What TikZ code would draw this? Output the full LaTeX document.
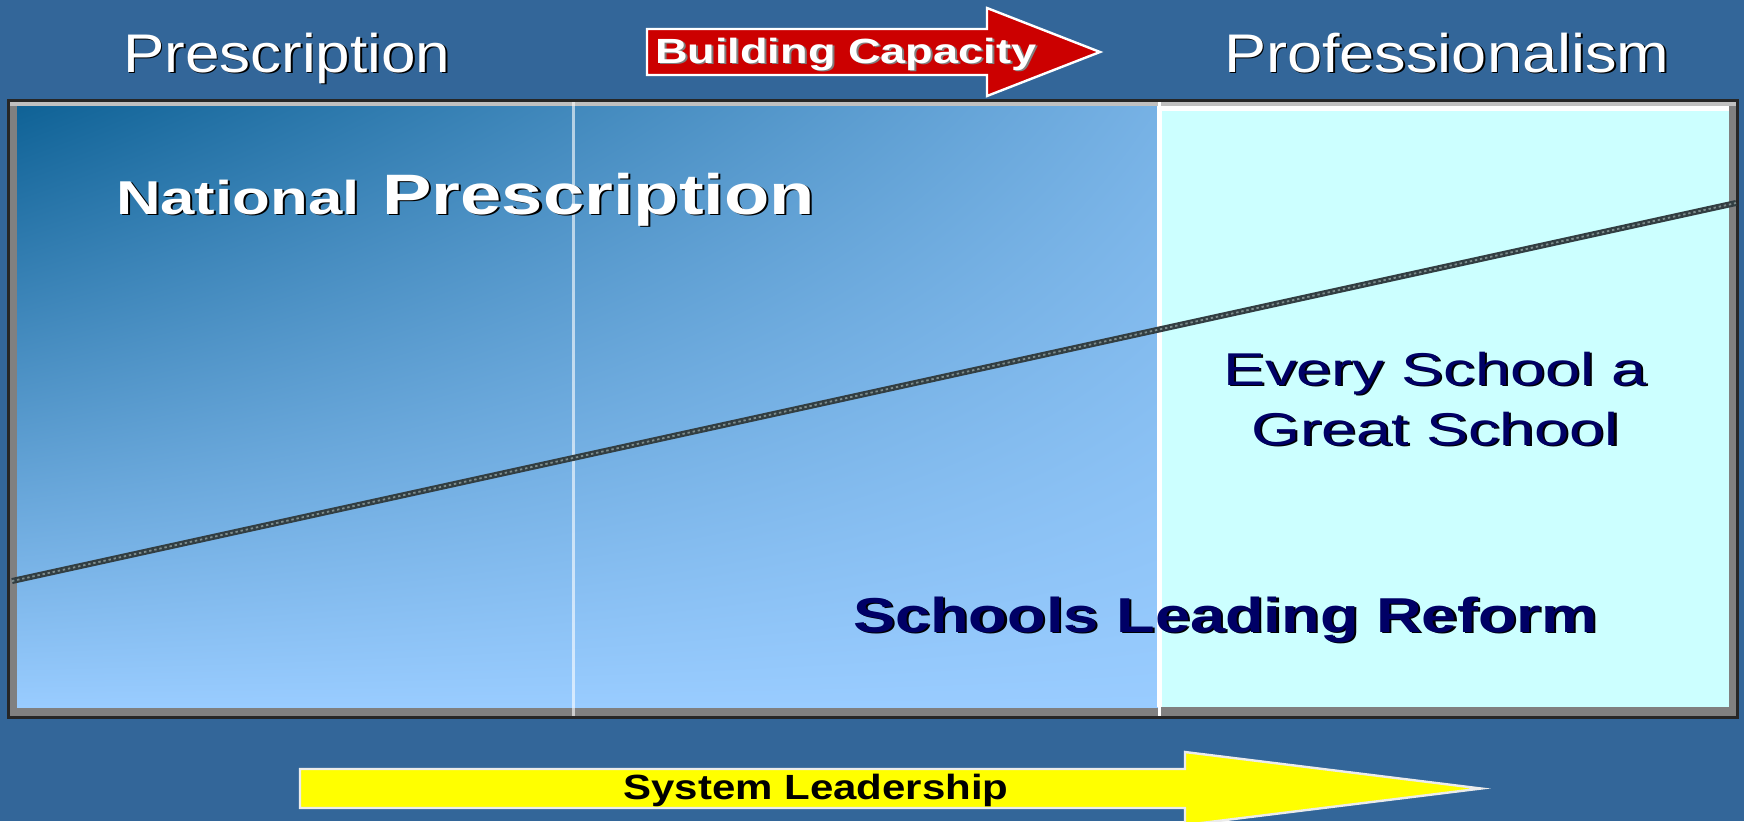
\documentclass[tikz,border=0pt]{standalone}
\usepackage{fontspec}
\setmainfont{Liberation Sans}
\usepackage{graphicx}
\definecolor{bgblue}{RGB}{51,102,153}
\definecolor{redc}{RGB}{204,0,0}
\definecolor{cyanp}{RGB}{204,255,255}
\definecolor{navy}{RGB}{0,0,102}
\definecolor{yel}{RGB}{255,255,0}
\definecolor{lineg}{RGB}{50,62,66}
\definecolor{lineh}{RGB}{125,140,140}
\definecolor{framegray}{RGB}{128,128,128}
\definecolor{framelight}{RGB}{192,192,192}
\newcommand\shtext[3]{\makebox[0pt][l]{\kern0.8pt\raisebox{-0.8pt}{\color{#1}#3}}{\color{#2}#3}}
\pgfdeclarefunctionalshading{panelgrad}{\pgfpoint{-50bp}{-50bp}}{\pgfpoint{50bp}{50bp}}{}{
  25 exch sub 50 div
  exch 25 add 50 div 0.75 mul
  1 index 1 exch sub mul
  add
  dup 1 gt {pop 1} if
  dup 0 lt {pop 0} if
  dup 138 mul 15 add 255 div exch
  dup 106 mul 98 add 255 div exch
  105 mul 150 add 255 div
}
\tikzset{
  txt/.style={inner sep=0pt, outer sep=0pt},
  hdr/.style={txt, anchor=base west, font=\fontsize{27.2}{30}\selectfont},
  arrowshape/.style={line width=1.2pt, line join=miter},
}
\begin{document}
\begin{tikzpicture}[x=0.5pt,y=-0.5pt]
\useasboundingbox (0,0) rectangle (1744,821);
\fill[bgblue] (0,0) rectangle (1744,821);
% frame
\fill[black!85] (7,99) rectangle (1739,719);
\fill[framegray] (10,102) rectangle (1736,716);
\fill[framelight] (10,102) rectangle (1736,106);
% gradient panel
\shade[shading=panelgrad] (17,106) rectangle (1158,707);
% cyan panel
\fill[white] (1157,106) rectangle (1729,707);
\fill[cyanp] (1162,111) rectangle (1729,707);
% dividers
\draw[white, opacity=0.6, line width=1.5pt] (573,102) -- (573,716);
\draw[white, line width=1.5pt] (1159,102) -- (1159,716);
% diagonal line
\draw[lineg, line width=3pt] (12,581) -- (1736,203);
\draw[lineh, line width=0.9pt, dash pattern=on 1.2pt off 1.4pt] (12,581) -- (1736,203);
% top arrow
\draw[arrowshape, draw=white, fill=redc] (647,29) -- (987,29) -- (987,8) -- (1100,52) -- (987,96) -- (987,75) -- (647,75) -- cycle;
% bottom arrow
\draw[arrowshape, draw=white!85!gray, fill=yel] (300,769) -- (1185,769) -- (1185,752) -- (1481,788.5) -- (1185,825) -- (1185,808) -- (300,808) -- cycle;
% texts
\node[hdr] (presc) at (123,72) {\scalebox{1.14}[1]{\shtext{black}{white}{Prescription}}};
\node[hdr] (prof) at (1224,72) {\scalebox{1.16}[1]{\shtext{black}{white}{Professionalism}}};
\node[txt, anchor=base west, font=\bfseries\fontsize{17.5}{20}\selectfont] (bc) at (655,63) {\scalebox{1.29}[1]{\shtext{gray}{white}{Building Capacity}}};
\node[txt, anchor=base west, font=\bfseries] (natp) at (116,214) {\scalebox{1.3}[1]{\shtext{black}{white}{\fontsize{23.75}{26}\selectfont National}\hspace{8.8pt}\shtext{black}{white}{\fontsize{28.5}{30}\selectfont Prescription}}};
\node[txt, anchor=base, font=\fontsize{23}{30}\selectfont] (every1) at (1435,385) {\scalebox{1.37}[1]{\shtext{black}{navy}{Every School a}}};
\node[txt, anchor=base, font=\fontsize{23}{30}\selectfont] (every2) at (1435,445) {\scalebox{1.37}[1]{\shtext{black}{navy}{Great School}}};
\node[txt, anchor=base west, font=\bfseries\fontsize{24.5}{28}\selectfont] (slr) at (853,632) {\scalebox{1.29}[1]{\shtext{black}{navy}{Schools Leading Reform}}};
\node[txt, anchor=base, font=\bfseries\fontsize{17.5}{20}\selectfont] (sl) at (816,799) {\scalebox{1.2}[1]{System Leadership}};
\end{tikzpicture}
\end{document}
